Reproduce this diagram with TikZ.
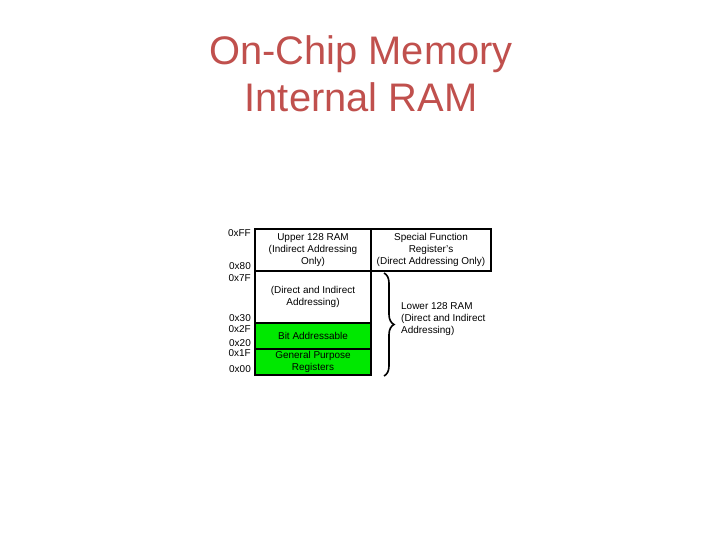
\documentclass[tikz,border=0pt]{standalone}
\usepackage{fontspec}
\setmainfont{Liberation Sans}
\definecolor{titleRed}{RGB}{192,80,77}
\definecolor{regGreen}{RGB}{0,232,0}
\usepackage{tikz}
\usetikzlibrary{positioning,decorations.pathreplacing}
\tikzset{
  cell/.style={draw, line width=1.8bp, outer sep=0pt, inner sep=0pt,
    align=center, font=\fontsize{10}{12}\selectfont},
  addr/.style={anchor=east, inner sep=0pt, font=\fontsize{10}{12}\selectfont},
}
\begin{document}
\begin{tikzpicture}[x=1bp, y=-1bp]
    \useasboundingbox (0,0) rectangle (720,540);
    % Title
    \node[anchor=base, text=titleRed, font=\fontsize{40}{47}\selectfont] (title1) at (361,65) {On-Chip Memory};
    \node[anchor=base, text=titleRed, font=\fontsize{40}{47}\selectfont] (title2) at (361,112) {Internal RAM};
    % Memory blocks
    \node[cell, minimum width=116bp, minimum height=42bp] (upper) at (313,250)
      {Upper 128 RAM\\(Indirect Addressing\\Only)};
    \node[cell, minimum width=120bp, minimum height=42bp, right=0pt of upper] (sfr)
      {Special Function\\Register's\\(Direct Addressing Only)};
    \node[cell, minimum width=116bp, minimum height=52bp, below=0pt of upper] (direct)
      {(Direct and Indirect\\Addressing)};
    \node[cell, fill=regGreen, minimum width=116bp, minimum height=26bp, below=0pt of direct] (bitaddr)
      {Bit Addressable};
    \node[cell, fill=regGreen, minimum width=116bp, minimum height=26bp, below=0pt of bitaddr] (gpr)
      {General Purpose\\Registers};
    % Addresses
    \node[addr] (aFF) at (251,233) {0xFF};
    \node[addr] (a80) at (251,266) {0x80};
    \node[addr] (a7F) at (251,278) {0x7F};
    \node[addr] (a30) at (251,318) {0x30};
    \node[addr] (a2F) at (251,329) {0x2F};
    \node[addr] (a20) at (251,343) {0x20};
    \node[addr] (a1F) at (251,353) {0x1F};
    \node[addr] (a00) at (251,369) {0x00};
    % Brace
    \coordinate (btop) at (384,273);
    \coordinate (bbot) at (384,376);
    \draw[decorate, decoration={brace, amplitude=10bp}, line width=1.6bp] (btop) -- (bbot);
    \node[anchor=west, align=left, inner sep=0pt, font=\fontsize{10}{12}\selectfont] (lower) at (401,319)
      {Lower 128 RAM\\(Direct and Indirect\\Addressing)};
\end{tikzpicture}
\end{document}
